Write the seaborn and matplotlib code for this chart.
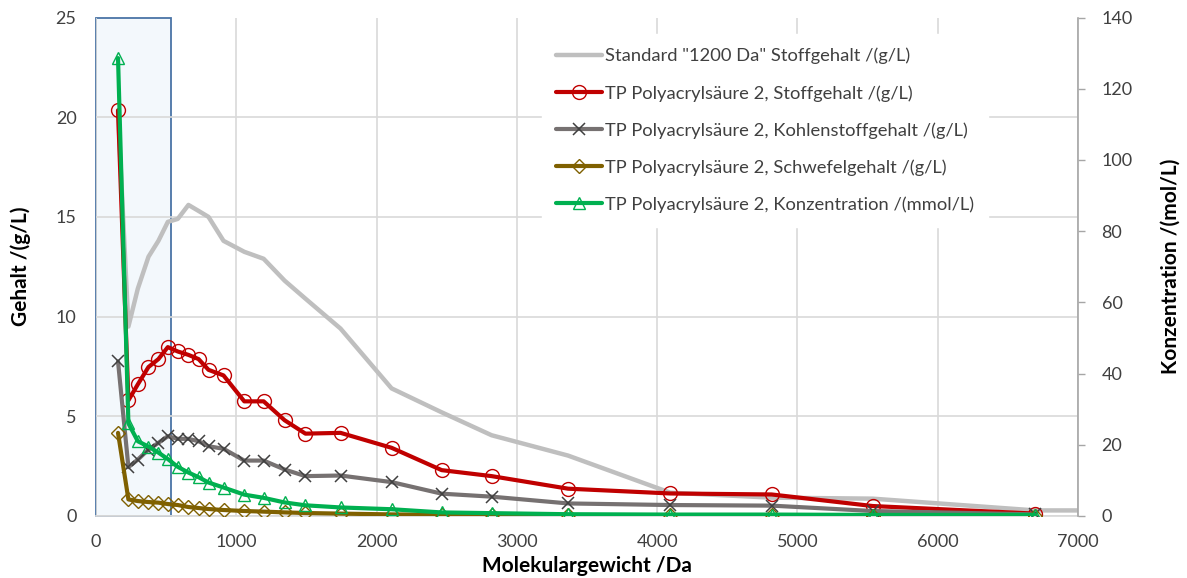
import numpy as np
import pandas as pd
import matplotlib
matplotlib.use("Agg")
import matplotlib.pyplot as plt
import seaborn as sns

# Molekulargewicht der Fraktionen /Da
mw = [157, 231, 298, 374, 445, 512, 583, 659, 731, 802, 909, 1057, 1195,
      1345, 1493, 1743, 2107, 2464, 2820, 3365, 4093, 4816, 5536, 6695]

# Standard "1200 Da" (letzter Punkt liegt knapp hinter 7000 Da)
std_mw = mw + [7300]
std_gehalt = [20.3, 9.5, 11.4, 13.0, 13.8, 14.75, 14.9, 15.6, 15.3, 15.0, 13.8,
              13.25, 12.9, 11.8, 10.9, 9.4, 6.4, 5.2, 4.05, 3.03, 1.17, 0.92,
              0.87, 0.28, 0.28]

stoffgehalt = [20.35, 5.8, 6.6, 7.47, 7.87, 8.47, 8.25, 8.08, 7.87, 7.33, 7.05,
               5.75, 5.75, 4.8, 4.13, 4.17, 3.42, 2.3, 2.0, 1.37, 1.13, 1.08,
               0.5, 0.12]

kohlenstoff = [7.75, 2.45, 2.83, 3.33, 3.67, 4.0, 3.87, 3.87, 3.75, 3.5, 3.37,
               2.78, 2.78, 2.33, 2.0, 2.03, 1.7, 1.12, 0.97, 0.63, 0.55, 0.52,
               0.25, 0.08]

schwefel = [4.17, 0.83, 0.75, 0.7, 0.67, 0.6, 0.55, 0.45, 0.4, 0.35, 0.3,
            0.25, 0.22, 0.18, 0.15, 0.12, 0.08, 0.06, 0.05, 0.04, 0.03, 0.03,
            0.02, 0.02]

# Konzentration /(mmol/L), rechte Achse
konzentration = [128.6, 26.0, 21.0, 19.5, 17.8, 16.0, 13.8, 12.2, 10.9, 9.4,
                 8.0, 6.0, 5.1, 3.8, 3.0, 2.4, 1.9, 1.0, 0.8, 0.5, 0.4, 0.4,
                 0.3, 0.3]

labels = [
    'Standard "1200 Da" Stoffgehalt /(g/L)',
    'TP Polyacrylsäure 2, Stoffgehalt /(g/L)',
    'TP Polyacrylsäure 2, Kohlenstoffgehalt /(g/L)',
    'TP Polyacrylsäure 2, Schwefelgehalt /(g/L)',
    'TP Polyacrylsäure 2, Konzentration /(mmol/L)',
]

sns.set_theme(style="white")
plt.rcParams['font.family'] = ['Lato', 'DejaVu Sans']

fig = plt.figure(figsize=(11.87, 5.78), dpi=100)
ax = fig.add_axes([96 / 1187, 1 - 516 / 578, 982 / 1187, 498.5 / 578])
ax2 = ax.twinx()

text_col = '#404040'
grid_col = '#D9D9D9'

# Markierter Bereich (niedermolekular)
span = ax.axvspan(0, 536, ymin=0, ymax=1, facecolor='#F3F8FC',
                  edgecolor='#4A74A6', lw=1.3, zorder=0.4)
span.set_clip_on(False)

sns.lineplot(x=std_mw, y=std_gehalt, ax=ax, sort=False, color='#BFBFBF',
             lw=3.2, label=labels[0], zorder=2)
sns.lineplot(x=mw, y=stoffgehalt, ax=ax, sort=False, color='#C00000', lw=3,
             marker='o', markersize=10, markerfacecolor='none',
             markeredgecolor='#C00000', markeredgewidth=1.0,
             label=labels[1], zorder=3)
sns.lineplot(x=mw, y=kohlenstoff, ax=ax, sort=False, color='#767171', lw=3,
             marker='x', markersize=9, markeredgecolor='#404040',
             markeredgewidth=1.1, label=labels[2], zorder=3)
sns.lineplot(x=mw, y=schwefel, ax=ax, sort=False, color='#7F6000', lw=3,
             marker='D', markersize=7, markerfacecolor='none',
             markeredgecolor='#7F6000', markeredgewidth=1.0,
             label=labels[3], zorder=3)
sns.lineplot(x=mw, y=konzentration, ax=ax2, sort=False, color='#00B050', lw=3,
             marker='^', markersize=9, markerfacecolor='none',
             markeredgecolor='#00B050', markeredgewidth=1.0,
             label=labels[4], zorder=4)

ax.set_xlim(0, 7000)
ax.set_ylim(0, 25)
ax2.set_ylim(0, 140)
ax.set_xticks(np.arange(0, 7001, 1000))
ax.set_yticks(np.arange(0, 26, 5))
ax2.set_yticks(np.arange(0, 141, 20))

ax.set_axisbelow(True)
ax.grid(True, color=grid_col, lw=1.2)
ax2.grid(False)

for sp in ['top', 'left']:
    ax.spines[sp].set_visible(False)
    ax2.spines[sp].set_visible(False)
ax.spines['right'].set_visible(False)
ax.spines['bottom'].set_color(grid_col)
ax2.spines['bottom'].set_visible(False)
ax2.spines['right'].set_color('#A6A6A6')
ax2.spines['right'].set_linewidth(1.2)

ax.tick_params(axis='both', length=0, labelsize=13, colors=text_col)
ax.tick_params(axis='x', pad=13)
ax.tick_params(axis='y', pad=14)
ax2.tick_params(axis='y', length=5, width=1, color='#A6A6A6', labelsize=13,
                labelcolor=text_col, pad=12, direction='out')

ax.set_xlabel('Molekulargewicht /Da', fontsize=15, fontweight='bold',
              color='#000000', labelpad=4)
ax.set_ylabel('Gehalt /(g/L)', fontsize=15, fontweight='bold',
              color='#000000', labelpad=18)
ax2.set_ylabel('Konzentration /(mol/L)', fontsize=15, fontweight='bold',
               color='#000000', labelpad=20)

# Legende aus beiden Achsen zusammensetzen
h1, l1 = ax.get_legend_handles_labels()
h2, l2 = ax2.get_legend_handles_labels()
if ax.get_legend() is not None:
    ax.get_legend().remove()
leg = ax2.legend(h1 + h2, l1 + l2, loc='upper left',
                 bbox_to_anchor=(0.445, 0.985), frameon=True, fancybox=False,
                 framealpha=1, edgecolor='white', facecolor='white',
                 fontsize=13.2, handlelength=2.5, handletextpad=0.2,
                 labelspacing=1.12, borderpad=0.75)
for t in leg.get_texts():
    t.set_color(text_col)

fig.savefig('out.png', dpi=100)
